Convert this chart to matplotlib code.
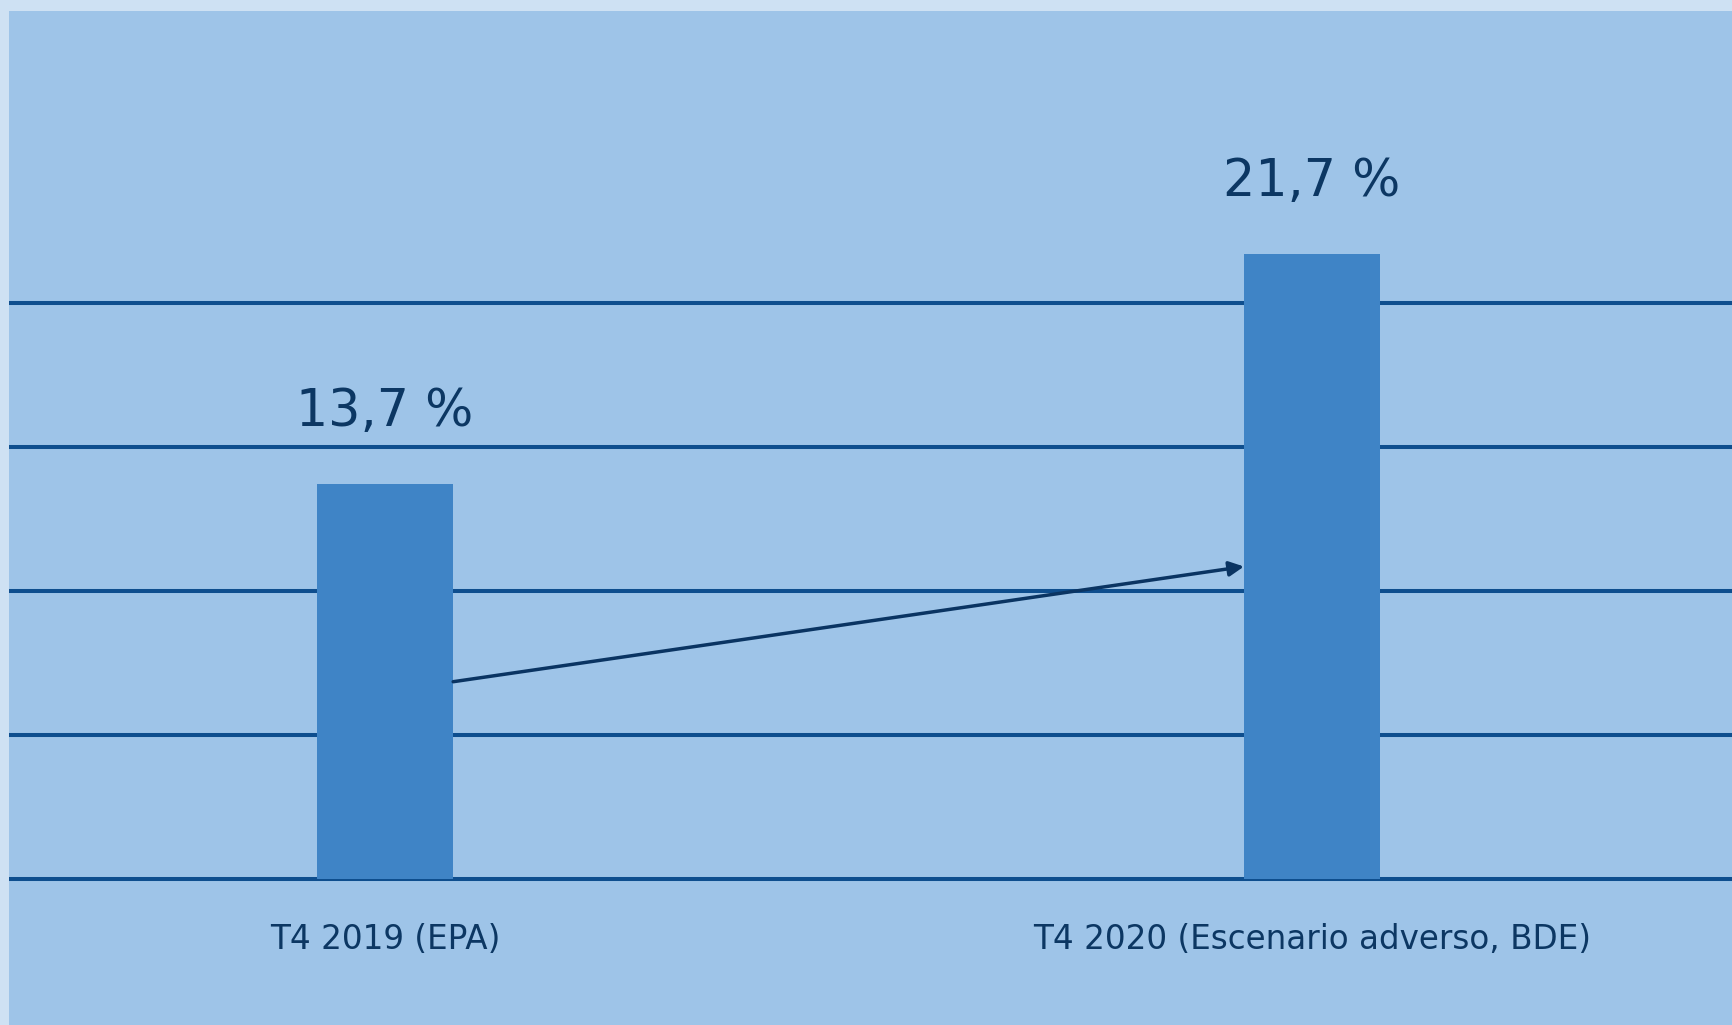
import matplotlib.pyplot as plt
from matplotlib.patches import Rectangle

categories = ["T4 2019 (EPA)", "T4 2020 (Escenario adverso, BDE)"]
values = [13.7, 21.7]
value_labels = ["13,7 %", "21,7 %"]
grid_levels = [0, 5, 10, 15, 20]

bg = "#9EC4E8"
border = "#CEE1F3"
bar_color = "#3F84C6"
grid_color = "#0E4E8E"
text_color = "#0C3763"

fig = plt.figure(figsize=(17.33, 10.25), dpi=100, facecolor=border)
fig.patches.append(Rectangle((9 / 1733, 0), 1, 1 - 11 / 1025, transform=fig.transFigure,
                             facecolor=bg, edgecolor="none", zorder=-10))

ax = fig.add_axes([9 / 1733, 146 / 1025, 1724 / 1733, 864 / 1025])
ax.set_zorder(5)
ax.patch.set_alpha(0)
for s in ax.spines.values():
    s.set_visible(False)

xs = list(range(len(categories)))
width = 0.147

for g in grid_levels:
    ax.axhline(g, color=grid_color, lw=2.9, zorder=1, clip_on=False,
               solid_capstyle="butt")

ax.bar(xs, values, width=width, color=bar_color, zorder=2)

for x, v, lab in zip(xs, values, value_labels):
    ax.annotate(lab, (x, v), xytext=(0, 42), textcoords="offset points",
                ha="center", va="baseline", fontsize=36.5, color=text_color)

# arrow from middle of first bar to middle of second
ax.annotate("", xy=(xs[1] - width / 2, values[1] / 2),
            xytext=(xs[0] + width / 2, values[0] / 2),
            arrowprops=dict(arrowstyle="-|>", lw=2.5, color="#0A3462",
                            mutation_scale=22, shrinkA=0, shrinkB=0),
            zorder=3)

ax.set_xlim(-0.4056, 1.454)
ax.set_ylim(0, 30)
ax.set_yticks([])
ax.set_xticks(xs)
ax.set_xticklabels(categories, fontsize=23.5, color=text_color)
ax.tick_params(axis="x", length=0, pad=32)

fig.savefig("out.png", dpi=100, facecolor=fig.get_facecolor())
